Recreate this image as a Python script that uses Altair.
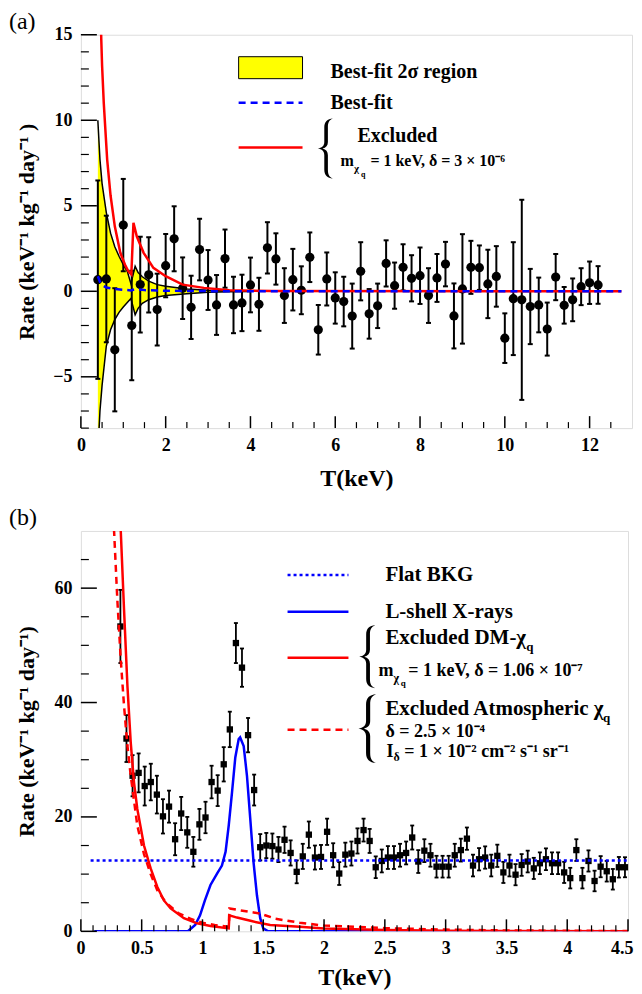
import altair as alt
import pandas as pd

FONT = "Liberation Serif"

# ---------------- panel (a) data ----------------
a_T = [0.4, 0.6, 0.8, 1.0, 1.2, 1.4, 1.6, 1.8, 2.0, 2.2, 2.4, 2.6, 2.8, 3.0, 3.2,
       3.4, 3.6, 3.8, 4.0, 4.2, 4.4, 4.6, 4.8, 5.0, 5.2, 5.4, 5.6, 5.8, 6.0, 6.2,
       6.4, 6.6, 6.8, 7.0, 7.2, 7.4, 7.6, 7.8, 8.0, 8.2, 8.4, 8.6, 8.8, 9.0, 9.2,
       9.4, 9.6, 9.8, 10.0, 10.2, 10.4, 10.6, 10.8, 11.0, 11.2, 11.4, 11.6, 11.8, 12.0, 12.2]
a_rate = [0.68, 0.72, -3.42, 3.87, -2.0, 0.39, 0.96, -1.07, 1.5, 3.07,
          0.18, -0.94, 2.44, 0.66, -0.8, 1.91, -0.8, -0.68, 0.37, -0.76,
          2.54, 1.89, -0.25, 0.68, 0.06, 1.99, -2.25, 0.72, -0.39, -0.6,
          -1.45, 1.17, -1.32, -0.85, 1.63, 0.33, 1.4, 0.76, 0.91, -0.25,
          0.78, 1.59, -1.44, 0.14, 1.4, 1.38, 0.43, 0.87, -2.74, -0.43,
          -0.5, -0.89, -0.8, -2.21, 0.83, -0.82, -0.5, 0.27, 0.5, 0.37]
a_err = [5.8, 3.7, 3.6, 2.7, 3.2, 2.8, 2.2, 2.1, 1.85, 1.9,
         1.8, 1.85, 1.8, 1.75, 1.75, 1.7, 1.65, 1.65, 1.6, 1.55,
         1.5, 1.5, 1.6, 1.8, 1.4, 1.45, 1.45, 1.55, 1.5, 1.45,
         1.9, 1.7, 1.45, 1.3, 1.35, 1.35, 1.35, 1.35, 1.65, 1.6,
         1.4, 1.3, 1.9, 3.2, 1.55, 1.3, 2.0, 1.77, 1.45, 3.3,
         5.85, 2.2, 1.6, 1.55, 1.35, 1.07, 1.25, 1.08, 1.24, 1.1]

band_T = [0.40, 0.45, 0.50, 0.60, 0.70, 0.80, 0.90, 1.00, 1.10, 1.18, 1.28, 1.35,
          1.45, 1.60, 1.80, 2.00, 2.50, 3.00, 3.50, 4.00]
band_hi = [10.0, 7.7, 6.3, 4.6, 3.4, 2.6, 2.05, 1.56, 1.13, 0.45, 1.46, 1.1,
           0.85, 0.59, 0.39, 0.29, 0.14, 0.06, 0.03, 0.01]
band_lo = [-9.5, -7.0, -5.5, -3.2, -2.25, -1.66, -1.23, -0.92, -0.64, -0.42, -1.37, -1.0,
           -0.7, -0.49, -0.33, -0.25, -0.14, -0.06, -0.03, -0.01]

bf_T = [0.4, 0.45, 0.5, 0.6, 0.8, 1.0, 1.18, 1.28, 1.5, 2.0, 3.0, 4.0, 12.75]
bf_y = [0.88, 0.55, 0.35, 0.22, 0.13, 0.09, 0.05, 0.12, 0.07, 0.03, 0.01, 0.0, 0.0]

exa_T = [0.46, 0.48, 0.5, 0.54, 0.62, 0.7, 0.8, 0.93, 1.05, 1.12, 1.19, 1.24, 1.32,
         1.48, 1.71, 2.0, 2.4, 2.9, 3.5, 4.5, 12.75]
exa_y = [17.5, 14.8, 13.2, 11.0, 7.7, 5.6, 3.8, 2.25, 1.5, 1.17, 0.98, 4.0, 3.2,
         2.25, 1.37, 0.88, 0.39, 0.2, 0.06, 0.02, 0.0]

# ---------------- panel (b) data ----------------
b_T = [0.325, 0.375, 0.425, 0.475, 0.525, 0.575, 0.625, 0.675, 0.725, 0.775,
       0.825, 0.875, 0.925, 0.975, 1.025, 1.075, 1.125, 1.175, 1.225, 1.275,
       1.325, 1.375, 1.425, 1.475, 1.525, 1.575, 1.625, 1.675, 1.725, 1.775,
       1.825, 1.875, 1.925, 1.975, 2.025, 2.075, 2.125, 2.175, 2.225, 2.275,
       2.325, 2.375, 2.425, 2.475, 2.525, 2.575, 2.625, 2.675, 2.725, 2.775,
       2.825, 2.875, 2.925, 2.975, 3.025, 3.075, 3.125, 3.175, 3.225, 3.275,
       3.325, 3.375, 3.425, 3.475, 3.525, 3.575, 3.625, 3.675, 3.725, 3.775,
       3.825, 3.875, 3.925, 3.975, 4.025, 4.075, 4.125, 4.175, 4.225, 4.275,
       4.325, 4.375, 4.425, 4.475]
b_rate = [53.3, 33.7, 27.2, 27.7, 25.4, 26.1, 23.9, 20.1, 21.8, 16.1,
          20.6, 17.3, 13.9, 18.7, 19.9, 26.1, 24.6, 29.2, 35.3, 50.4,
          46.1, 34.3, 24.7, 14.7, 15.0, 14.9, 14.3, 16.0, 13.7, 10.4,
          13.1, 16.9, 12.9, 13.0, 17.4, 13.3, 10.1, 13.4, 13.6, 15.8,
          17.7, 15.8, 11.2, 12.3, 12.9, 12.9, 13.3, 13.7, 16.4, 12.2,
          14.1, 13.3, 11.3, 11.3, 11.3, 13.3, 14.2, 16.2, 11.5, 12.6,
          12.9, 11.5, 13.2, 10.3, 11.5, 9.9, 11.6, 12.2, 11.0, 11.9,
          12.6, 11.9, 11.9, 10.3, 9.3, 14.2, 9.3, 12.3, 8.8, 11.3,
          10.5, 9.1, 11.2, 11.2]
b_err = [6.4, 4.1, 3.6, 3.4, 3.4, 3.2, 3.3, 3.0, 2.8, 2.8,
         2.9, 2.7, 2.6, 2.7, 2.75, 2.85, 2.7, 3.0, 3.1, 3.5,
         3.35, 3.0, 2.7, 2.3, 2.2, 2.2, 2.2, 2.3, 2.2, 2.0,
         2.2, 2.3, 2.1, 2.1, 2.3, 2.1, 2.0, 2.1, 2.1, 2.2,
         2.0, 2.1, 1.9, 2.0, 2.0, 2.0, 2.0, 2.0, 2.1, 2.0,
         2.0, 2.0, 1.9, 1.9, 1.9, 2.0, 2.0, 1.95, 1.9, 1.95,
         1.95, 1.9, 1.95, 1.85, 1.9, 1.85, 1.9, 1.9, 1.85, 1.9,
         1.9, 1.9, 1.9, 1.85, 1.8, 1.9, 1.8, 1.85, 1.8, 1.85,
         1.8, 1.8, 1.8, 1.75]

flat_T = [0.08, 4.5]
flat_y = [12.4, 12.4]

lsh_T = [0.11, 0.88, 0.94, 0.98, 1.02, 1.066, 1.12, 1.16, 1.19, 1.216, 1.243, 1.27,
         1.298, 1.31, 1.339, 1.366, 1.393, 1.42, 1.448, 1.475, 1.5, 1.54, 4.5]
lsh_y = [0.0, 0.0, 1.1, 2.8, 5.4, 8.1, 10.1, 11.5, 13.9, 18.5, 24.3, 30.4,
         33.6, 33.9, 32.4, 27.2, 19.7, 12.1, 6.3, 2.3, 0.5, 0.0, 0.0]

dm_T = [0.3, 0.328, 0.355, 0.383, 0.41, 0.437, 0.464, 0.519, 0.574, 0.628, 0.683,
        0.738, 0.847, 0.956, 1.066, 1.216, 1.222, 1.284, 1.42, 1.557, 1.8, 2.0,
        2.5, 3.0, 3.5, 4.5]
dm_y = [85.0, 70.0, 56.2, 42.8, 33.0, 26.0, 21.4, 15.0, 11.0, 7.8, 5.4,
        4.0, 2.3, 1.4, 0.93, 0.5, 2.8, 2.4, 1.7, 1.1, 0.8, 0.5,
        0.25, 0.12, 0.05, 0.0]

atm_T = [0.25, 0.273, 0.3, 0.328, 0.355, 0.383, 0.41, 0.464, 0.519, 0.574, 0.628,
         0.7, 0.8, 0.9, 1.0, 1.1, 1.216, 1.222, 1.3, 1.475, 1.6, 1.8, 2.0, 2.5,
         3.0, 3.5, 4.5]
atm_y = [85.0, 70.0, 57.9, 47.5, 39.4, 32.4, 27.2, 18.5, 13.5, 10.0, 7.2,
         5.0, 3.2, 2.2, 1.5, 1.1, 0.8, 4.0, 3.7, 3.1, 2.2, 1.5, 1.0, 0.55,
         0.3, 0.15, 0.05]

# axis tick values
a_xmaj = [0, 2, 4, 6, 8, 10, 12]
a_xmin = [v * 0.5 for v in range(0, 26) if v % 4 != 0]
a_ymaj = [-5, 0, 5, 10, 15]
a_ymin = [v for v in range(-8, 15) if v % 5 != 0]
b_xmaj = [0, 0.5, 1, 1.5, 2, 2.5, 3, 3.5, 4, 4.5]
b_xmin = [round(v * 0.1, 1) for v in range(0, 45) if v % 5 != 0]
b_ymaj = [0, 20, 40, 60]
b_ymin = [v for v in range(5, 70, 5) if v % 20 != 0]

one = alt.Data(values=[{}])

BRACE = ("M0.25,-1 C0.06,-0.98 -0.04,-0.9 -0.04,-0.7 L-0.04,-0.22 "
         "C-0.04,-0.09 -0.12,-0.02 -0.26,0 C-0.12,0.02 -0.04,0.09 -0.04,0.22 "
         "L-0.04,0.7 C-0.04,0.9 0.06,0.98 0.25,1 C0.13,0.95 0.08,0.88 0.08,0.7 "
         "L0.08,0.22 C0.08,0.1 0.02,0.03 -0.1,0 C0.02,-0.03 0.08,-0.1 0.08,-0.22 "
         "L0.08,-0.7 C0.08,-0.88 0.13,-0.95 0.25,-1 Z")


def txt(s, x, y, size, weight="bold", baseline="middle"):
    return alt.Chart(one).mark_text(
        text=s, font=FONT, fontSize=size, fontWeight=weight, align="left",
        baseline=baseline, color="black"
    ).encode(x=alt.value(x), y=alt.value(y))


def hline(x1, x2, y, color, width, dash=None):
    kw = dict(color=color, strokeWidth=width)
    if dash:
        kw["strokeDash"] = dash
    return alt.Chart(one).mark_rule(**kw).encode(
        x=alt.value(x1), x2=alt.value(x2), y=alt.value(y))


def brace(x, y, h):
    return alt.Chart(one).mark_point(
        shape=BRACE, filled=True, fill="black", strokeWidth=0, opacity=1, size=h * h
    ).encode(x=alt.value(x), y=alt.value(y))


def make_panel(tag, W, H, xs, ys, xax, yax, xmaj, xmin, ymaj, ymin, data_layers, legend_layers):
    def X(f):
        return alt.X(f, type="quantitative", scale=xs, axis=xax)

    def Y(f):
        return alt.Y(f, type="quantitative", scale=ys, axis=yax)

    ticks = [
        alt.Chart(pd.DataFrame({"v": xmaj})).mark_rule(color="black", strokeWidth=1.5)
        .encode(x=X("v"), y=alt.value(H), y2=alt.value(H - 12)),
        alt.Chart(pd.DataFrame({"v": xmin})).mark_rule(color="black", strokeWidth=1.2)
        .encode(x=X("v"), y=alt.value(H), y2=alt.value(H - 6)),
        alt.Chart(pd.DataFrame({"v": ymaj})).mark_rule(color="black", strokeWidth=1.5)
        .encode(y=Y("v"), x=alt.value(0), x2=alt.value(16)),
        alt.Chart(pd.DataFrame({"v": ymin})).mark_rule(color="black", strokeWidth=1.2)
        .encode(y=Y("v"), x=alt.value(0), x2=alt.value(8)),
    ]
    layers = [f(X, Y) for f in data_layers] + ticks + legend_layers
    layers.append(txt(tag, -72, -25, 24, weight="normal", baseline="top"))
    return alt.layer(*layers).properties(width=W, height=H)


def xaxis(values, title, flush, title_y):
    kw = {}
    if flush:
        kw = dict(labelFlush=True, labelFlushOffset=5)
    else:
        kw = dict(labelFlush=False)
    return alt.Axis(values=values, title=title, format="~r",
                    labelOverlap=False, ticks=False, domain=False, grid=False,
                    labelFont=FONT, labelFontWeight="bold", labelFontSize=18,
                    labelColor="black", labelPadding=8, titleFont=FONT,
                    titleFontWeight="bold", titleFontSize=24, titleColor="black",
                    titleY=title_y, titleBaseline="top", **kw)


def yaxis(values, title, H):
    return alt.Axis(values=values, title=title, format="~r", labelFlush=False,
                    labelOverlap=False, ticks=False, domain=False, grid=False,
                    labelFont=FONT, labelFontWeight="bold", labelFontSize=18,
                    labelColor="black", labelPadding=9, titleFont=FONT,
                    titleFontWeight="bold", titleFontSize=22, titleColor="black",
                    titleX=-42, titleY=H / 2, titleAngle=270, titleBaseline="bottom",
                    titleAlign="center")


# ---------------- panel (a) ----------------
dfa = pd.DataFrame({"T": a_T, "r": a_rate, "e": a_err})
dfa["lo"] = dfa["r"] - dfa["e"]
dfa["hi"] = dfa["r"] + dfa["e"]
dfband = pd.DataFrame({"T": band_T, "hi": band_hi, "lo": band_lo})
dfbf = pd.DataFrame({"T": bf_T, "y": bf_y})
dfexa = pd.DataFrame({"T": exa_T, "y": exa_y})

a_layers = [
    lambda X, Y: alt.Chart(dfband).mark_area(color="#ffff00", opacity=1, clip=True)
    .encode(x=X("T"), y=Y("hi"), y2="lo"),
    lambda X, Y: alt.Chart(dfband).mark_line(color="black", strokeWidth=1.5, clip=True)
    .encode(x=X("T"), y=Y("hi")),
    lambda X, Y: alt.Chart(dfband).mark_line(color="black", strokeWidth=1.5, clip=True)
    .encode(x=X("T"), y=Y("lo")),
    lambda X, Y: alt.Chart(dfa).mark_rule(color="black", strokeWidth=2)
    .encode(x=X("T"), y=Y("lo"), y2="hi"),
    lambda X, Y: alt.Chart(dfa).mark_tick(color="black", orient="horizontal", size=5, thickness=2, opacity=1)
    .encode(x=X("T"), y=Y("lo")),
    lambda X, Y: alt.Chart(dfa).mark_tick(color="black", orient="horizontal", size=5, thickness=2, opacity=1)
    .encode(x=X("T"), y=Y("hi")),
    lambda X, Y: alt.Chart(dfa).mark_circle(color="black", size=85, opacity=1)
    .encode(x=X("T"), y=Y("r")),
    lambda X, Y: alt.Chart(dfexa).mark_line(color="#ff0000", strokeWidth=2.5, clip=True)
    .encode(x=X("T"), y=Y("y")),
    lambda X, Y: alt.Chart(dfbf).mark_line(color="#0000ff", strokeWidth=2.5, strokeDash=[7, 5], clip=True)
    .encode(x=X("T"), y=Y("y")),
]

a_legend = [
    alt.Chart(one).mark_rect(fill="#ffff00", stroke="black", strokeWidth=1)
    .encode(x=alt.value(158), x2=alt.value(222), y=alt.value(22), y2=alt.value(44)),
    txt("Best-fit 2σ region", 250, 37, 20),
    hline(158, 222, 68, "#0000ff", 2.5, [7, 5]),
    txt("Best-fit", 250, 68, 20),
    hline(158, 222, 113, "#ff0000", 2.5),
    brace(245, 114, 60),
    txt("Excluded", 277, 101, 20),
    txt("m", 260, 126, 16),
    txt("χ", 273.5, 134, 11),
    txt("q", 280.5, 140, 8),
    txt("= 1 keV, δ = 3 × 10⁻⁶", 290, 126, 16),
]

WA, HA = 552, 394
pa = make_panel(
    "(a)", WA, HA,
    alt.Scale(domain=[0, 13], nice=False, zero=False),
    alt.Scale(domain=[-8, 15], nice=False, zero=False),
    xaxis(a_xmaj, "T(keV)", False, 38),
    yaxis(a_ymaj, "Rate (keV⁻¹ kg⁻¹ day⁻¹ )", HA),
    a_xmaj, a_xmin, a_ymaj, a_ymin, a_layers, a_legend)

# ---------------- panel (b) ----------------
dfb = pd.DataFrame({"T": b_T, "r": b_rate, "e": b_err})
dfb["lo"] = dfb["r"] - dfb["e"]
dfb["hi"] = dfb["r"] + dfb["e"]
dfflat = pd.DataFrame({"T": flat_T, "y": flat_y})
dflsh = pd.DataFrame({"T": lsh_T, "y": lsh_y})
dfdm = pd.DataFrame({"T": dm_T, "y": dm_y})
dfatm = pd.DataFrame({"T": atm_T, "y": atm_y})

b_layers = [
    lambda X, Y: alt.Chart(dfb).mark_rule(color="black", strokeWidth=1.8)
    .encode(x=X("T"), y=Y("lo"), y2="hi"),
    lambda X, Y: alt.Chart(dfb).mark_tick(color="black", orient="horizontal", size=4, thickness=1.8, opacity=1)
    .encode(x=X("T"), y=Y("lo")),
    lambda X, Y: alt.Chart(dfb).mark_tick(color="black", orient="horizontal", size=4, thickness=1.8, opacity=1)
    .encode(x=X("T"), y=Y("hi")),
    lambda X, Y: alt.Chart(dfb).mark_square(color="black", size=40, opacity=1)
    .encode(x=X("T"), y=Y("r")),
    lambda X, Y: alt.Chart(dfflat).mark_line(color="#0000ff", strokeWidth=2.5, strokeDash=[3, 3], clip=True)
    .encode(x=X("T"), y=Y("y")),
    lambda X, Y: alt.Chart(dflsh).mark_line(color="#0000ff", strokeWidth=2.5, clip=True)
    .encode(x=X("T"), y=Y("y")),
    lambda X, Y: alt.Chart(dfdm).mark_line(color="#ff0000", strokeWidth=2.5, clip=True)
    .encode(x=X("T"), y=Y("y")),
    lambda X, Y: alt.Chart(dfatm).mark_line(color="#ff0000", strokeWidth=2.5, strokeDash=[7, 5], clip=True)
    .encode(x=X("T"), y=Y("y")),
]

b_legend = [
    hline(207, 268, 44, "#0000ff", 2.5, [3, 3]),
    txt("Flat BKG", 305, 44, 21),
    hline(207, 268, 81, "#0000ff", 2.5),
    txt("L-shell X-rays", 305, 81, 21),
    hline(207, 268, 127, "#ff0000", 2.5),
    brace(287, 126, 63),
    txt("Excluded DM-χ", 305, 107, 21),
    txt("q", 446, 116, 13),
    txt("m", 298, 140, 18),
    txt("χ", 313, 147, 12),
    txt("q", 320.5, 152, 9),
    txt("= 1 keV,  δ = 1.06 × 10⁻⁷", 328, 140, 18),
    hline(207, 268, 199, "#ff0000", 2.5, [7, 5]),
    brace(287, 198, 69),
    txt("Excluded Atmospheric χ", 305, 178, 21),
    txt("q", 523, 187, 13),
    txt("δ = 2.5 × 10⁻⁴", 305, 201, 18),
    txt("I", 306, 221, 18),
    txt("δ", 313, 226, 12),
    txt("= 1 × 10⁻² cm⁻² s⁻¹ sr⁻¹", 324, 221, 18),
]

WB, HB = 548, 401
pb = make_panel(
    "(b)", WB, HB,
    alt.Scale(domain=[0, 4.5], nice=False, zero=False),
    alt.Scale(domain=[0, 70], nice=False, zero=False),
    xaxis(b_xmaj, "T(keV)", True, 34),
    yaxis(b_ymaj, "Rate (keV⁻¹ kg⁻¹ day⁻¹)", HB),
    b_xmaj, b_xmin, b_ymaj, b_ymin, b_layers, b_legend)

chart = alt.vconcat(pa, pb, spacing=14).properties(
    padding={"left": 0, "top": 0, "right": 0, "bottom": 0}
).configure_view(stroke="black", strokeWidth=2).configure(background="white")

chart.save("out.html", embed_options={"renderer": "svg", "actions": False})
